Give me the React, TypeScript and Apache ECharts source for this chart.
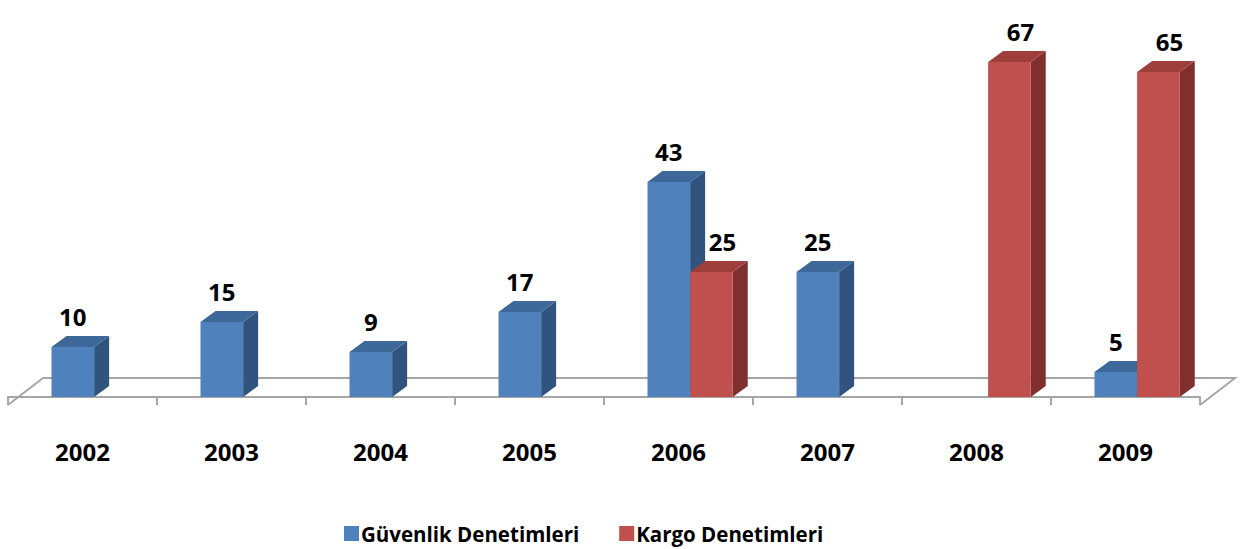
import React, { useEffect, useRef } from "react";
import * as echarts from "echarts";

const years = ["2002", "2003", "2004", "2005", "2006", "2007", "2008", "2009"];
const guvenlik: (number | null)[] = [10, 15, 9, 17, 43, 25, null, 5];
const kargo: (number | null)[] = [null, null, null, null, 25, null, 67, 65];
const seriesNames = ["Güvenlik Denetimleri", "Kargo Denetimleri"];

const FONT = "'Open Sans', 'Liberation Sans', Arial, sans-serif";

const palettes = [
  { front: "#4F81BD", top: "#3E6899", side: "#31547F", labelShift: 0 },
  { front: "#C0504D", top: "#9E3F3C", side: "#7F302E", labelShift: 11 },
];

const DX = 15;
const DY = -11;

function makeBarRender(idx: number) {
  const pal = palettes[idx];
  return (params: any, api: any) => {
    const v = api.value(1);
    if (v == null || isNaN(v) || v <= 0) return null;
    const cat = api.value(0);
    const base = api.coord([cat, 0]);
    const topPt = api.coord([cat, v]);
    const band = api.size([1, 0])[0];
    const w = band * 0.286;
    const cx = base[0];
    const x0 = cx - band * 0.208 + idx * w;
    const x1 = x0 + w;
    const yB = base[1];
    const yT = topPt[1];
    return {
      type: "group",
      children: [
        {
          type: "polygon",
          shape: { points: [[x1, yT], [x1 + DX, yT + DY], [x1 + DX, yB + DY], [x1, yB]] },
          style: { fill: pal.side },
        },
        {
          type: "polygon",
          shape: { points: [[x0, yT], [x0 + DX, yT + DY], [x1 + DX, yT + DY], [x1, yT]] },
          style: { fill: pal.top },
        },
        {
          type: "rect",
          shape: { x: x0, y: yT, width: w, height: yB - yT },
          style: { fill: pal.front },
        },
        {
          type: "text",
          style: {
            text: String(v),
            x: (x0 + x1) / 2 + pal.labelShift,
            y: yT - 31,
            align: "center",
            verticalAlign: "middle",
            font: `bold 24px ${FONT}`,
            fill: "#000",
          },
        },
      ],
    };
  };
}

const floorRender = (params: any, api: any) => {
  const cs = params.coordSys;
  const zeroY = api.coord([0, 0])[1];
  const frontY = zeroY + 8;
  const backY = zeroY - 19;
  const left = cs.x;
  const right = cs.x + cs.width;
  return {
    type: "polyline",
    shape: {
      points: [
        [left, frontY],
        [left + 35, backY],
        [right + 35, backY],
        [right, frontY],
      ],
    },
    style: { stroke: "#a6a6a6", lineWidth: 2, fill: "none" },
  };
};

export default function App() {
  const ref = useRef<HTMLDivElement>(null);
  useEffect(() => {
    if (!ref.current) return;
    const chart = echarts.init(ref.current, null, { renderer: "svg" });
    chart.setOption({
      animation: false,
      backgroundColor: "#ffffff",
      grid: { left: 8, right: 42, top: 47, bottom: 152 },
      xAxis: {
        type: "category",
        data: years,
        offset: 8,
        boundaryGap: true,
        axisLine: { show: true, lineStyle: { color: "#a6a6a6", width: 2 } },
        axisTick: { show: true, length: 8, lineStyle: { color: "#a6a6a6", width: 2 } },
        axisLabel: {
          color: "#000",
          fontWeight: "bold",
          fontSize: 24,
          fontFamily: FONT,
          margin: 34,
        },
        splitLine: { show: false },
      },
      yAxis: { type: "value", min: 0, max: 70, show: false, splitLine: { show: false } },
      legend: {
        data: seriesNames,
        left: 339,
        top: 518,
        icon: "rect",
        itemWidth: 15,
        itemHeight: 15,
        itemGap: 40,
        textStyle: { color: "#000", fontWeight: "bold", fontSize: 20.5, fontFamily: FONT, padding: [0, 0, 0, -3] },
      },
      series: [
        {
          type: "custom",
          name: "floor",
          silent: true,
          data: [[0, 0]],
          renderItem: floorRender,
          encode: { x: 0, y: 1 },
        },
        {
          type: "custom",
          name: seriesNames[0],
          itemStyle: { color: palettes[0].front },
          data: guvenlik.map((v, i) => [i, v]),
          encode: { x: 0, y: 1 },
          renderItem: makeBarRender(0),
        },
        {
          type: "custom",
          name: seriesNames[1],
          itemStyle: { color: palettes[1].front },
          data: kargo.map((v, i) => [i, v]),
          encode: { x: 0, y: 1 },
          renderItem: makeBarRender(1),
        },
      ],
    });
    return () => chart.dispose();
  }, []);
  return (
    <div
      ref={ref}
      style={{ position: "fixed", left: 0, top: 0, width: 1242, height: 549, background: "#fff" }}
    />
  );
}
